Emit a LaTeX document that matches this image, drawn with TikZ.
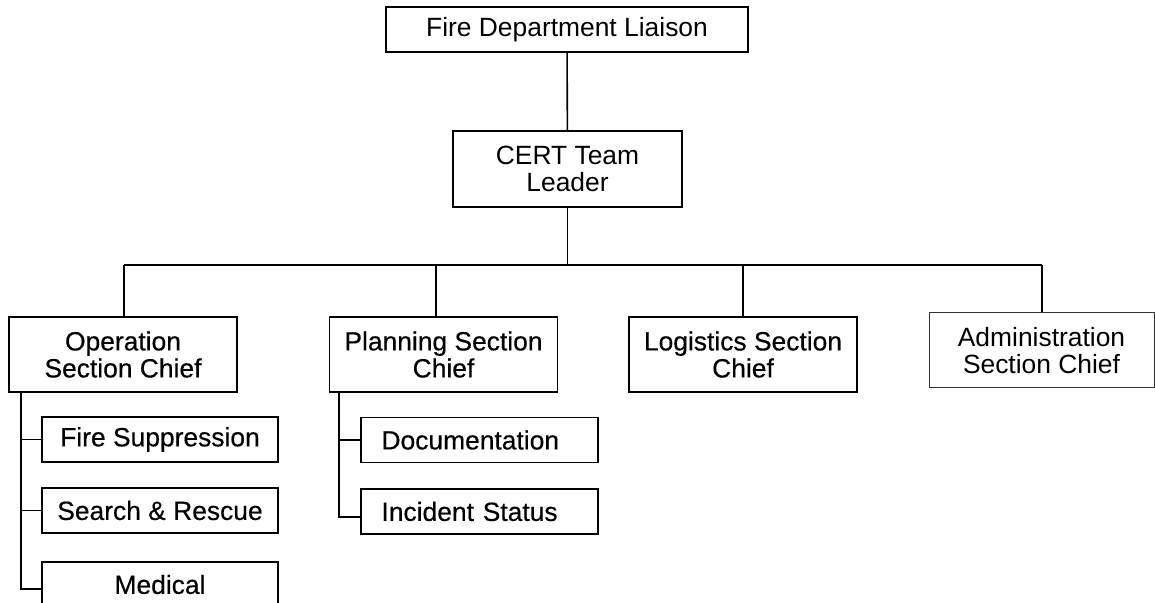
\documentclass[tikz,border=0pt]{standalone}
\usepackage{fontspec}
\setmainfont{Liberation Sans}
\newfontfamily\heavyfont[FakeBold=0.4]{Liberation Sans}
\usepackage{tikz}

\tikzset{
	unit/.style={shape=rectangle,draw=black,line width=0.8pt,align=center,inner sep=0pt,font=\fontsize{13.2}{13.5}\selectfont},
	chief/.style={unit,minimum width=114pt,minimum height=37.5pt,font=\heavyfont\fontsize{13.2}{13.5}\selectfont},
	task/.style={unit,minimum width=118pt,minimum height=22.5pt,font=\heavyfont\fontsize{13.2}{13.5}\selectfont},
	record/.style={task,text width=98pt,inner xsep=10.25pt,align=left,minimum width=0pt},
}

\begin{document}
\begin{tikzpicture}[x=0.5pt,y=-0.5pt,line width=0.8pt]
	\clip (0,0) rectangle (1155,603);

	\node[unit,minimum width=181pt,minimum height=22.5pt] (FDL) at (567,29.5) {Fire Department Liaison};
	\node[unit,minimum width=114.5pt,minimum height=38pt] (CERT) at (567.5,169) {CERT Team\\Leader};

	\node[chief] (Ops) at (123,354.5) {Operation\\Section Chief};
	\node[chief] (Plan) at (443.5,354.5) {Planning Section\\Chief};
	\node[chief] (Log) at (743,354.5) {Logistics Section\\Chief};
	\node[unit,draw=black!80,line width=0.5pt,minimum width=112.5pt,minimum height=37.5pt] (Adm) at (1041.5,350.5) {Administration\\Section Chief};

	\node[task] (Fire) at (160,439.5) {Fire Suppression};
	\node[task] (Search) at (160,510.5) {Search \& Rescue};
	\node[task] (Med) at (160,584.5) {Medical};

	\node[record] (Doc) at (479.5,440) {Documentation};
	\node[record] (Inc) at (479.5,511.5) {Incident Status};

	\coordinate (busL) at (124,265);
	\coordinate (busP) at (436,265);
	\coordinate (busR) at (1042,265);
	\coordinate (opsT) at (21,392);
	\coordinate (planT) at (339,392);

	\draw (FDL) -- (CERT);
	\draw (CERT) -- (CERT |- busL);
	\draw (busL) -- (busR);
	\draw (busL) -- (busL |- Ops.north);
	\draw (busP) -- (busP |- Plan.north);
	\draw (Log.north |- busL) -- (Log);
	\draw (busR) -- (busR |- Adm.north);

	\draw (opsT) |- (Fire.west);
	\draw (opsT) |- (Search.west);
	\draw (opsT) |- ([yshift=-2.25pt]Med.west);
	\draw (planT) |- (Doc.west);
	\draw (planT) |- ([yshift=-2.75pt]Inc.west);
\end{tikzpicture}
\end{document}
